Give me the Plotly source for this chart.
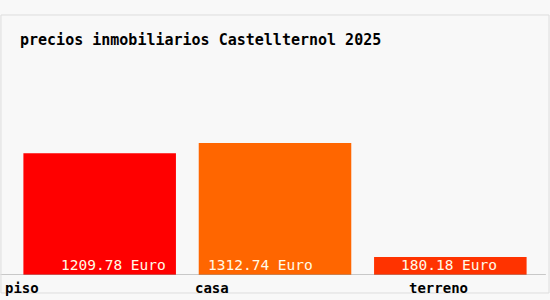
import plotly.graph_objects as go

categories = ["piso", "casa", "terreno"]
values = [1209.78, 1312.74, 180.18]
value_labels = ["1209.78 Euro", "1312.74 Euro", "180.18 Euro"]
colors = ["#ff0000", "#ff6600", "#ff3300"]
title = "precios inmobiliarios Castellternol 2025"

FONT = "DejaVu Sans Mono"

fig = go.Figure()
fig.add_trace(go.Bar(
    x=categories, y=values, marker=dict(color=colors, line=dict(width=0)),
    hoverinfo="skip", showlegend=False,
))

label_shift = [14, -15, -1]
cat_shift = [-78, -63, -12]
for i, c in enumerate(categories):
    fig.add_annotation(x=c, y=0, yref="y", text=value_labels[i], showarrow=False,
                       yanchor="bottom", xanchor="center", xshift=label_shift[i], yshift=0,
                       font=dict(family=FONT, size=14.5, color="#fffbe8"))
    fig.add_annotation(x=c, y=0, yref="paper", text="<b>%s</b>" % c, showarrow=False,
                       yanchor="top", xanchor="center", xshift=cat_shift[i], yshift=-3,
                       font=dict(family=FONT, size=14, color="#000000"))

fig.add_annotation(x=0, y=1, xref="paper", yref="paper", xanchor="left", yanchor="middle",
                   text="<b>%s</b>" % title, showarrow=False, xshift=6, yshift=35,
                   font=dict(family=FONT, size=15, color="#000000"))

fig.update_layout(
    width=550, height=300,
    margin=dict(l=12, r=12, t=75, b=25),
    paper_bgcolor="#f8f8f8", plot_bgcolor="#f8f8f8",
    bargap=0.13,
    xaxis=dict(range=[-0.5, 2.5], showticklabels=False, showgrid=False, zeroline=False,
               showline=False, fixedrange=True),
    yaxis=dict(range=[0, 1312.74 * 200 / 132], showticklabels=False, showgrid=False, zeroline=False,
               showline=False, fixedrange=True),
    shapes=[
        dict(type="line", xref="paper", yref="y", x0=-0.022, x1=1.015, y0=0, y1=0,
             line=dict(color="#999999", width=1)),
        dict(type="rect", xref="paper", yref="paper", x0=-0.021, x1=1.021, y0=-0.09, y1=1.3,
             line=dict(color="#dddddd", width=1), fillcolor="rgba(0,0,0,0)"),
    ],
)

fig.write_html("out.html")
